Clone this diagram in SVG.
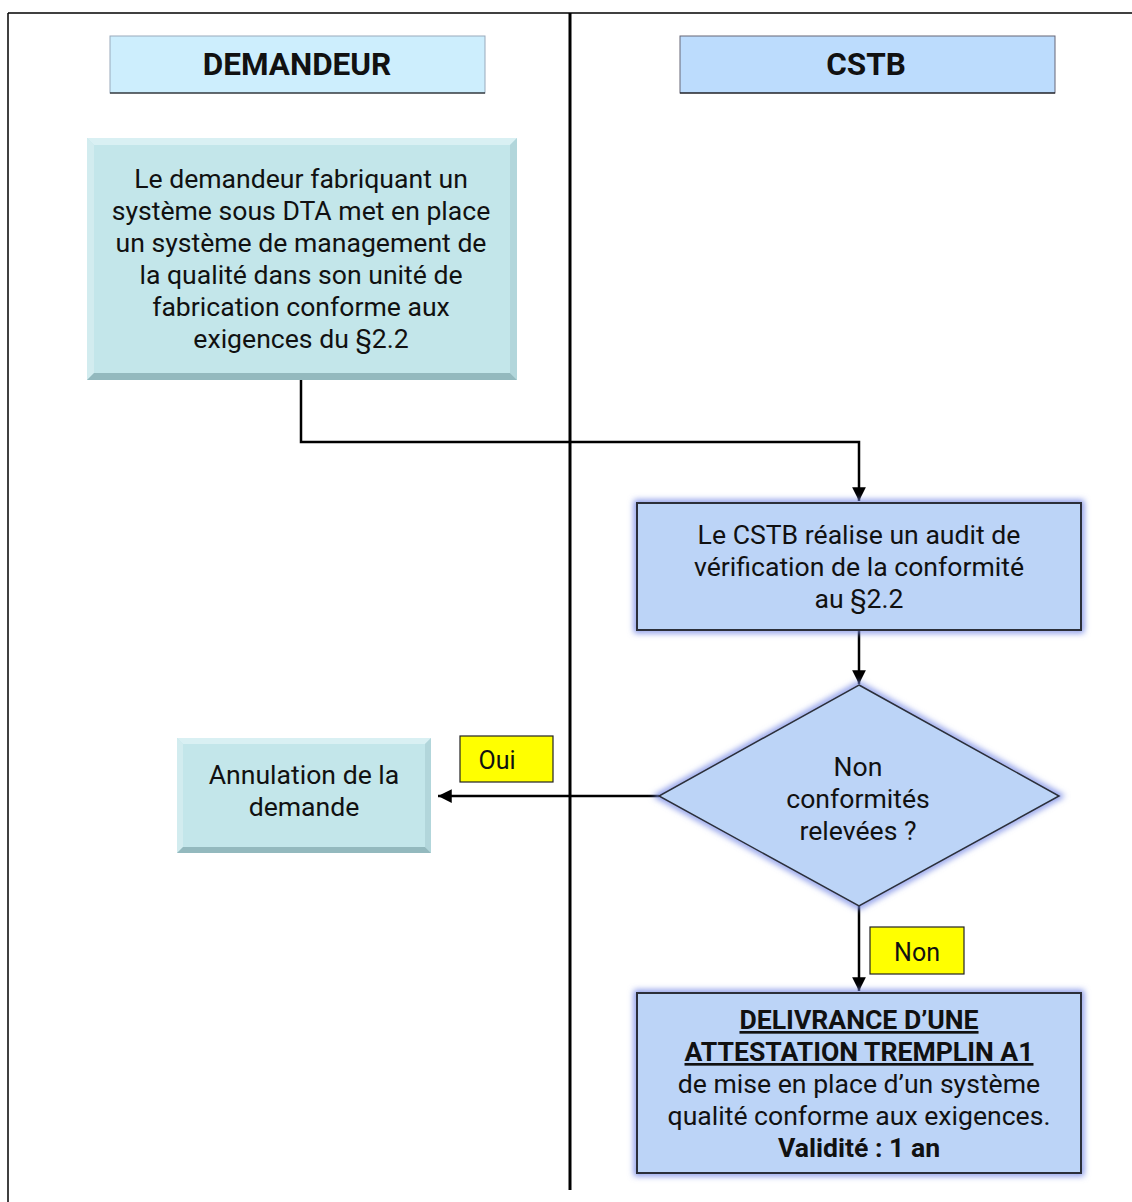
<svg xmlns="http://www.w3.org/2000/svg" width="1132" height="1202" viewBox="0 0 1132 1202">
<style>
  text { font-family: Roboto, "Liberation Sans", sans-serif; fill: #111; }
  .hdr { font-size: 31.5px; font-weight: bold; text-anchor: middle; }
  .t { font-size: 26.6px; text-anchor: middle; }
  .b { font-weight: bold; }
  .u { text-decoration: underline; }
  .lbl { font-size: 25px; text-anchor: middle; }
  .teal { fill: #c3e6ea; }
  .blue { fill: #bcd4f7; stroke: #2b2f3a; stroke-width: 2; }
  .conn { fill: none; stroke: #000; stroke-width: 2.5; }
  .yel { fill: #ffff00; stroke: #222; stroke-width: 1.2; }
</style>
<defs>
  <marker id="arr" viewBox="0 0 10 10" refX="10" refY="5" markerWidth="5.5" markerHeight="5.5" orient="auto" markerUnits="strokeWidth">
    <path d="M0,0 L10,5 L0,10 z" fill="#000"/>
  </marker>
  <filter id="glow" x="-10%" y="-20%" width="120%" height="140%">
    <feGaussianBlur stdDeviation="3"/>
  </filter>
</defs>
<rect width="1132" height="1202" fill="#fff"/>

<!-- lanes -->
<g id="lanes">
  <line x1="8" y1="13" x2="1132" y2="13" stroke="#000" stroke-width="1.5"/>
  <line x1="8" y1="13" x2="8" y2="1202" stroke="#000" stroke-width="1.5"/>
  <line x1="570" y1="13" x2="570" y2="1190" stroke="#000" stroke-width="3"/>
</g>

<g id="hdr-demandeur">
  <rect x="110" y="36" width="375" height="57" fill="#cdeefd" stroke="#9ab" stroke-width="1"/>
  <line x1="110" y1="93" x2="485" y2="93" stroke="#000" stroke-width="1.2"/>
  <text class="hdr" x="297" y="75">DEMANDEUR</text>
</g>
<g id="hdr-cstb">
  <rect x="680" y="36" width="375" height="57" fill="#bcdcfd" stroke="#667" stroke-width="1"/>
  <line x1="680" y1="93" x2="1055" y2="93" stroke="#000" stroke-width="1.2"/>
  <text class="hdr" x="866" y="75">CSTB</text>
</g>

<!-- connectors -->
<g id="connectors">
  <path class="conn" d="M301,380 V442 H859 V501" marker-end="url(#arr)"/>
  <path class="conn" d="M859,630 V684" marker-end="url(#arr)"/>
  <path class="conn" d="M659,796 H438" marker-end="url(#arr)"/>
  <path class="conn" d="M859,906 V991" marker-end="url(#arr)"/>
</g>

<g id="n1">
  <rect class="teal" x="87" y="138" width="430" height="242"/>
  <polygon points="87,138 517,138 510,145 94,145" fill="#d9f0f3"/>
  <polygon points="87,138 94,145 94,373 87,380" fill="#d2ecef"/>
  <polygon points="517,138 517,380 510,373 510,145" fill="#b2d6db"/>
  <polygon points="87,380 94,373 510,373 517,380" fill="#93b9be"/>
  <text class="t" x="301" y="188">Le demandeur fabriquant un</text>
  <text class="t" x="301" y="220">système sous DTA met en place</text>
  <text class="t" x="301" y="252">un système de management de</text>
  <text class="t" x="301" y="284">la qualité dans son unité de</text>
  <text class="t" x="301" y="316">fabrication conforme aux</text>
  <text class="t" x="301" y="348">exigences du §2.2</text>
</g>

<g id="n2">
  <rect x="637" y="503" width="444" height="127" fill="none" stroke="#7d8fe6" stroke-width="6" filter="url(#glow)"/>
  <rect class="blue" x="637" y="503" width="444" height="127"/>
  <text class="t" x="859" y="544">Le CSTB réalise un audit de</text>
  <text class="t" x="859" y="576">vérification de la conformité</text>
  <text class="t" x="859" y="608">au §2.2</text>
</g>

<g id="n3">
  <polygon points="859,685 1059,796 859,906 659,796" fill="none" stroke="#7d8fe6" stroke-width="6" filter="url(#glow)"/>
  <polygon points="859,685 1059,796 859,906 659,796" fill="#bcd4f7" stroke="#2b2f3a" stroke-width="1.5"/>
  <text class="t" x="858" y="776">Non</text>
  <text class="t" x="858" y="808">conformités</text>
  <text class="t" x="858" y="840">relevées ?</text>
</g>

<g id="n4">
  <rect class="teal" x="177" y="738" width="254" height="115"/>
  <polygon points="177,738 431,738 425,744 183,744" fill="#d9f0f3"/>
  <polygon points="177,738 183,744 183,847 177,853" fill="#d2ecef"/>
  <polygon points="431,738 431,853 425,847 425,744" fill="#b2d6db"/>
  <polygon points="177,853 183,847 425,847 431,853" fill="#93b9be"/>
  <text class="t" x="304" y="784">Annulation de la</text>
  <text class="t" x="304" y="816">demande</text>
</g>

<g id="lbl-oui">
  <rect class="yel" x="460" y="736" width="93" height="46"/>
  <text class="lbl" x="497" y="769">Oui</text>
</g>
<g id="lbl-non">
  <rect class="yel" x="870" y="927" width="94" height="47"/>
  <text class="lbl" x="917" y="961">Non</text>
</g>

<g id="n5">
  <rect x="637" y="993" width="444" height="180" fill="none" stroke="#7d8fe6" stroke-width="6" filter="url(#glow)"/>
  <rect class="blue" x="637" y="993" width="444" height="180"/>
  <text class="t b u" x="859" y="1029">DELIVRANCE D’UNE</text>
  <text class="t b u" x="859" y="1061">ATTESTATION TREMPLIN A1</text>
  <text class="t" x="859" y="1093">de mise en place d’un système</text>
  <text class="t" x="859" y="1125">qualité conforme aux exigences.</text>
  <text class="t b" x="859" y="1157">Validité : 1 an</text>
</g>
</svg>
